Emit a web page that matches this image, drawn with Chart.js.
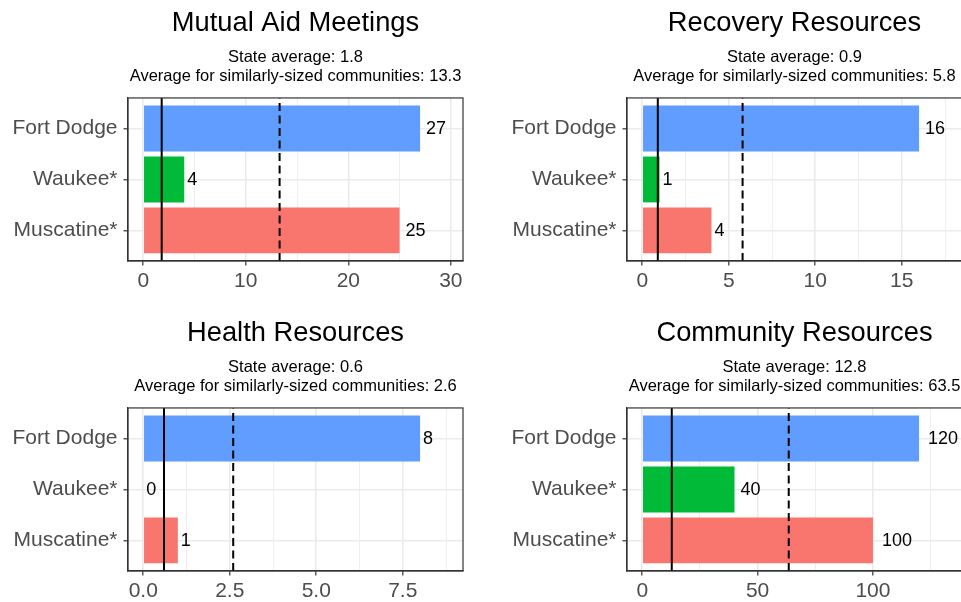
<!DOCTYPE html>
<html>
<head>
<meta charset="utf-8">
<script src="https://cdn.jsdelivr.net/npm/chart.js@4.4.0/dist/chart.umd.min.js"></script>
<style>
  html, body { margin: 0; padding: 0; background: #fff; }
  body { width: 961px; height: 602px; overflow: hidden; position: relative; }
  .panel { position: absolute; }
</style>
</head>
<body>
<div class="panel" style="left:0;top:0;width:480px;height:300px"><canvas id="c0"></canvas></div>
<div class="panel" style="left:480px;top:0;width:482px;height:300px"><canvas id="c1"></canvas></div>
<div class="panel" style="left:0;top:310px;width:480px;height:300px"><canvas id="c2"></canvas></div>
<div class="panel" style="left:480px;top:310px;width:482px;height:300px"><canvas id="c3"></canvas></div>
<script>
// data
var titles = ['Mutual Aid Meetings', 'Recovery Resources', 'Health Resources', 'Community Resources'];
var communities = ['Fort Dodge', 'Waukee*', 'Muscatine*'];
var barColors = ['#619CFF', '#00BA38', '#F8766D'];
var mutualAid = [27, 4, 25];
var recovery = [16, 1, 4];
var health = [8, 0, 1];
var community = [120, 40, 100];
var stateAvg = [1.8, 0.9, 0.6, 12.8];
var similarAvg = [13.3, 5.8, 2.6, 63.5];
var tickValues = [[0, 10, 20, 30], [0, 5, 10, 15], [0, 2.5, 5, 7.5], [0, 50, 100]];
var tickLabels = [['0', '10', '20', '30'], ['0', '5', '10', '15'], ['0.0', '2.5', '5.0', '7.5'], ['0', '50', '100']];
var axisRange = [[-1.485, 31.185], [-0.88, 18.48], [-0.44, 9.24], [-6.6, 138.6]];

var seriesList = [mutualAid, recovery, health, community];
var FONT = "'Liberation Sans', Arial, sans-serif";

// panel border, reference lines and value labels
var overlay = {
    id: 'overlay',
    afterDatasetsDraw: function (chart, args, opts) {
        var ctx = chart.ctx, a = chart.chartArea, x = chart.scales.x;
        ctx.save();
        ctx.beginPath();
        ctx.rect(a.left, a.top, a.right - a.left, a.bottom - a.top);
        ctx.clip();
        ctx.strokeStyle = '#000';
        ctx.lineWidth = 2;
        var px = x.getPixelForValue(opts.state);
        ctx.beginPath();
        ctx.moveTo(px, a.bottom);
        ctx.lineTo(px, a.top);
        ctx.stroke();
        ctx.setLineDash([8, 4.5]);
        px = x.getPixelForValue(opts.similar);
        ctx.beginPath();
        ctx.moveTo(px, a.bottom);
        ctx.lineTo(px, a.top);
        ctx.stroke();
        ctx.restore();

        // values beside bars
        ctx.save();
        ctx.font = '18px ' + FONT;
        ctx.fillStyle = '#000';
        ctx.textBaseline = 'middle';
        ctx.textAlign = 'left';
        var meta = chart.getDatasetMeta(0);
        meta.data.forEach(function (bar, i) {
            var v = chart.data.datasets[0].data[i].x;
            var txt = String(v);
            var w = ctx.measureText(txt).width;
            ctx.fillText(txt, x.getPixelForValue(v) + w * 0.3, bar.y + 1);
        });
        ctx.restore();

        // panel border
        ctx.save();
        ctx.strokeStyle = '#333333';
        ctx.lineWidth = 1.2;
        ctx.strokeRect(a.left, a.top, a.right - a.left, a.bottom - a.top);
        ctx.restore();
    }
};

function makePanel(idx) {
    var values = seriesList[idx];
    var major = tickValues[idx];
    var labels = tickLabels[idx];
    var isLeft = idx % 2 === 0;
    var points = values.map(function (v, i) { return { x: v, y: i + 1 }; });

    new Chart(document.getElementById('c' + idx), {
        type: 'bar',
        data: {
            datasets: [{
                data: points,
                backgroundColor: barColors,
                borderWidth: 0,
                barPercentage: 0.9,
                categoryPercentage: 1
            }]
        },
        options: {
            indexAxis: 'y',
            responsive: true,
            maintainAspectRatio: false,
            animation: false,
            events: [],
            layout: { padding: { left: 0, right: isLeft ? 17 : 0, top: 0, bottom: 0 } },
            plugins: {
                legend: { display: false },
                tooltip: { enabled: false },
                title: {
                    display: true,
                    text: titles[idx],
                    fullSize: false,
                    color: '#000',
                    font: { family: FONT, size: 27.3, weight: 'normal', lineHeight: 1.2 },
                    padding: { top: 7.5, bottom: 8.2 }
                },
                subtitle: {
                    display: true,
                    text: ['State average: ' + stateAvg[idx],
                           'Average for similarly-sized communities: ' + similarAvg[idx]],
                    fullSize: false,
                    color: '#000',
                    font: { family: FONT, size: 16.5, weight: 'normal', lineHeight: 1.13 },
                    padding: { top: 0, bottom: 12.2 }
                },
                overlay: { state: stateAvg[idx], similar: similarAvg[idx] }
            },
            scales: {
                x: {
                    type: 'linear',
                    min: axisRange[idx][0],
                    max: axisRange[idx][1],
                    afterBuildTicks: function (scale) {
                        var t = [];
                        var step = major[1] - major[0];
                        t.push({ value: major[0] - step / 2, minor: true });
                        major.forEach(function (v) {
                            t.push({ value: v });
                            t.push({ value: v + step / 2, minor: true });
                        });
                        scale.ticks = t.filter(function (tk) {
                            return tk.value >= scale.min && tk.value <= scale.max;
                        });
                    },
                    afterFit: function (scale) { scale.height = 39; },
                    ticks: {
                        autoSkip: false,
                        maxRotation: 0,
                        padding: 3,
                        color: '#4D4D4D',
                        font: { family: FONT, size: 21 },
                        callback: function (v) {
                            var k = major.indexOf(v);
                            return k >= 0 ? labels[k] : '';
                        }
                    },
                    grid: {
                        color: '#EBEBEB',
                        lineWidth: function (c) { return c.tick && c.tick.minor ? 0.8 : 1.6; },
                        tickColor: function (c) { return c.tick && c.tick.minor ? 'rgba(0,0,0,0)' : '#333333'; },
                        tickLength: 4.5,
                        tickWidth: 1.2
                    },
                    border: { display: true, color: '#333333', width: 1.2 }
                },
                y: {
                    type: 'linear',
                    reverse: true,
                    offset: false,
                    min: 0.4,
                    max: 3.6,
                    afterBuildTicks: function (scale) {
                        scale.ticks = communities.map(function (c, i) { return { value: i + 1 }; });
                    },
                    afterFit: function (scale) { scale.width = isLeft ? 128 : 147; },
                    ticks: {
                        autoSkip: false,
                        padding: 6,
                        color: '#4D4D4D',
                        font: { family: FONT, size: 21 },
                        callback: function (v) { return communities[v - 1]; }
                    },
                    grid: {
                        offset: false,
                        color: '#EBEBEB',
                        lineWidth: 1.6,
                        tickColor: '#333333',
                        tickLength: 4.5,
                        tickWidth: 1.2
                    },
                    border: { display: true, color: '#333333', width: 1.2 }
                }
            }
        },
        plugins: [overlay]
    });
}

[0, 1, 2, 3].forEach(makePanel);
</script>
</body>
</html>
